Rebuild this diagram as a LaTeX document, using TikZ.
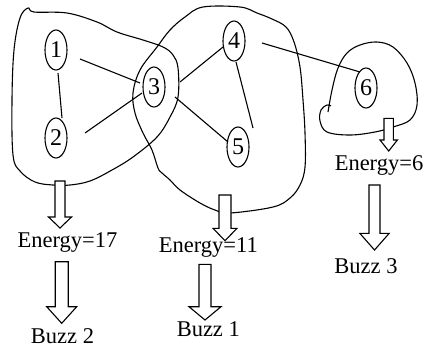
\documentclass[tikz,border=0pt]{standalone}
\usepackage{fontspec}
\setmainfont{Liberation Serif}
\usetikzlibrary{calc,shapes.geometric}

% hollow block arrow: centre x, shaft top, head base, tip, half shaft width, half head width
\newcommand\hollowarrow[6]{%
  \draw[blockarrow] ({#1-#5},#2) -- ({#1+#5},#2) -- ({#1+#5},#3) -- ({#1+#6},#3)
    -- (#1,#4) -- ({#1-#6},#3) -- ({#1-#5},#3) -- cycle;}

\tikzset{
  vertex/.style={draw, ellipse, line width=1.1pt, inner sep=0pt,
    minimum width=22pt, minimum height=40pt, font=\fontsize{24}{24}\selectfont},
  link/.style={line width=1.1pt},
  blob/.style={line width=1.1pt, smooth, tension=0.6},
  blockarrow/.style={draw, fill=white, line width=1.1pt, line join=miter},
  caption/.style={anchor=base, inner sep=0pt, font=\fontsize{22.5}{22.5}\selectfont}
}

\begin{document}
\begin{tikzpicture}[x=1pt, y=-1pt]
\useasboundingbox (0,0) rectangle (435,349);

% clusters drawn as freehand closed curves
\draw[blob] plot[smooth cycle] coordinates {
  (28,8) (34,12) (67,13) (97,22) (117,32) (143,40) (163,47) (173,55) (178,68)
  (178,97) (170,117) (157,137) (133,157) (112,170) (90,181) (70,185) (53,185)
  (35,182) (20,171) (13,155) (12,100) (14,50) (20,18)};
\draw[blob] plot[smooth cycle] coordinates {
  (185,17) (203,7) (240,7) (257,13) (272,19) (286,27) (294,42) (300,67)
  (303,100) (305,133) (305,167) (300,185) (290,198) (273,207) (230,213)
  (215,210) (200,203) (180,190) (170,180) (162,173) (158,168) (152,150)
  (143,133) (135,113) (133,93) (140,70) (157,47) (170,30)};
\draw[blob] plot coordinates {
  (328,112) (332,90) (338,68) (347,53) (360,45) (377,42) (393,47) (407,63)
  (415,83) (417,105) (410,120) (393,127) (375,132) (350,135) (327,132)
  (320,121) (321,110) (327,105) (331,106)};

% vertices
\node[vertex] (n1) at (56,50) {1};
\node[vertex] (n2) at (56,138) {2};
\node[vertex] (n3) at (154,87) {3};
\node[vertex] (n4) at (234,41) {4};
\node[vertex] (n5) at (238,147) {5};
\node[vertex] (n6) at (366,88) {6};

% edges, drawn with small gaps next to the vertices
\draw[link] ([shift={(2,23)}]n1.center) -- ([shift={(6,-20)}]n2.center);
\draw[link] ([shift={(24,9)}]n1.center) -- ([shift={(-14,-4)}]n3.center);
\draw[link] ([shift={(29,-5)}]n2.center) -- ([shift={(-12,6)}]n3.center);
\draw[link] ([shift={(26,-5)}]n3.center) -- ([shift={(-11,6)}]n4.center);
\draw[link] ([shift={(21,10)}]n3.center) -- ([shift={(-10,-5)}]n5.center);
\draw[link] ([shift={(2,21)}]n4.center) -- ([shift={(15,-19)}]n5.center);
\draw[link] ([shift={(28,2)}]n4.center) -- ([shift={(-6,-16)}]n6.center);

% energies and buzzers
\node[caption] (e17) at (67.5,247.7) {Energy=17};
\node[caption] (e11) at (208.3,252.7) {Energy=11};
\node[caption] (e6) at (379,170) {Energy=6};
\node[caption] (b2) at (62.5,343.3) {Buzz 2};
\node[caption] (b1) at (208.3,336.7) {Buzz 1};
\node[caption] (b3) at (366,273.3) {Buzz 3};

% block arrows
\hollowarrow{60}{181}{217}{228}{5}{11.5}
\hollowarrow{61.7}{261.7}{306.7}{323.3}{6.5}{15}
\hollowarrow{225}{195}{228.3}{240.7}{6}{12}
\hollowarrow{205}{264.3}{306.7}{320}{6}{16}
\hollowarrow{388.7}{118.3}{140}{151}{4.7}{8.7}
\hollowarrow{374.5}{185}{233.3}{250}{5.5}{14.7}
\end{tikzpicture}
\end{document}
